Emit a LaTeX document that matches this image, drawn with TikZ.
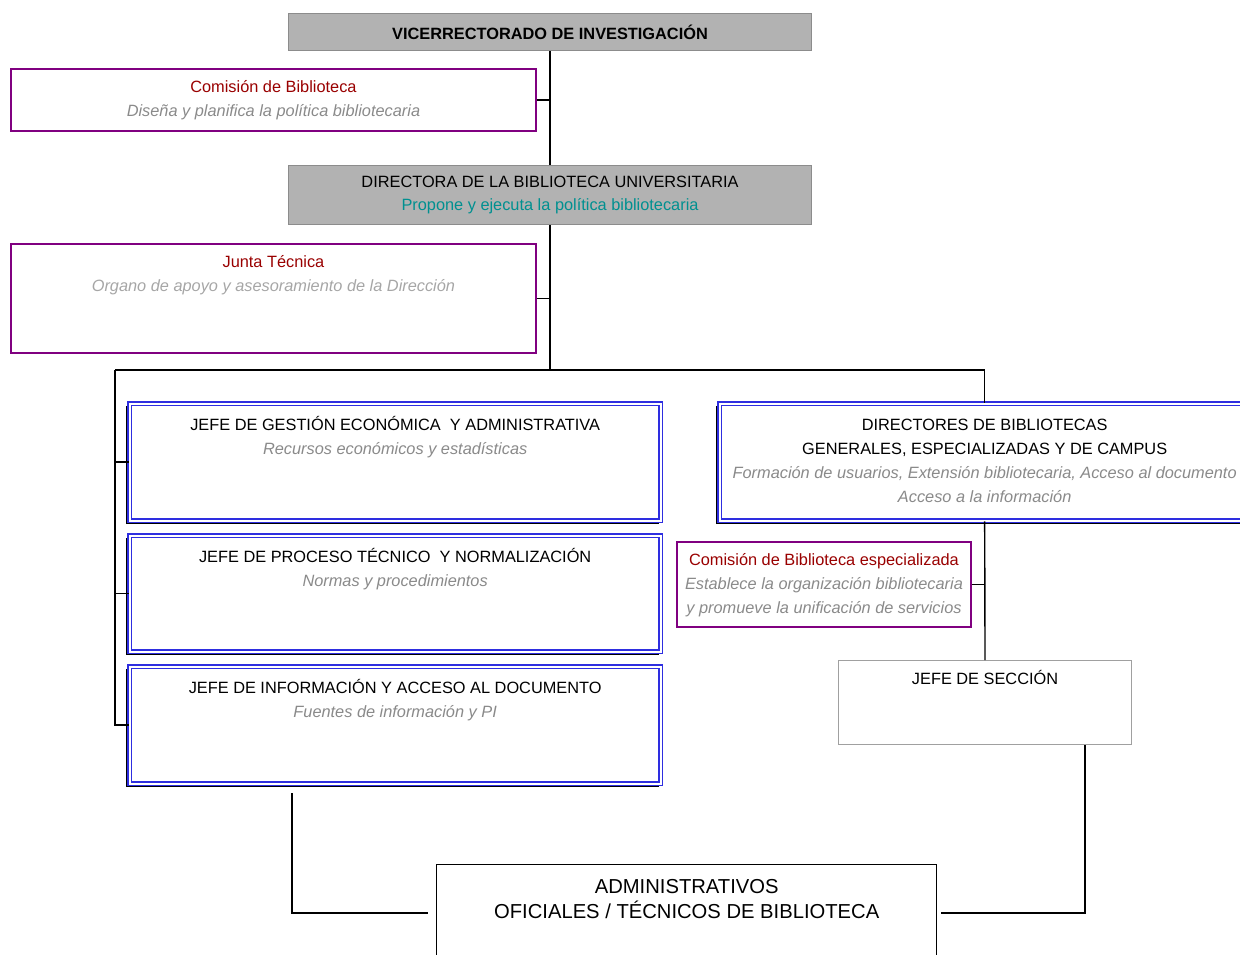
\documentclass[tikz,border=0pt]{standalone}
\usepackage{fontspec}
\setmainfont{Liberation Sans}
\usetikzlibrary{calc,shadows}

\definecolor{boxgray}{HTML}{B2B2B2}
\definecolor{boxline}{HTML}{8C8C8C}
\definecolor{comred}{HTML}{990000}
\definecolor{compurple}{HTML}{800080}
\definecolor{propteal}{HTML}{009090}
\definecolor{descgray}{HTML}{8A8A8A}
\definecolor{desclight}{HTML}{A6A6A6}
\definecolor{jefeblue}{HTML}{2E2EE0}
\definecolor{seccline}{HTML}{A0A0A0}

\newlength{\pxu}
\setlength{\pxu}{0.02cm}
\newcommand{\desc}[1]{\textcolor{descgray}{\itshape #1}}
\newcommand{\comname}[1]{\textcolor{comred}{#1}}
\newcommand{\tstrut}{\rule{0pt}{10pt}}

\tikzset{
  box/.style={draw, anchor=north west, inner sep=0pt, font=\fontsize{9.3}{13.6}\selectfont},
  graybox/.style={box, fill=boxgray, draw=boxline, line width=0.6pt, align=center},
  combox/.style={box, draw=compurple, line width=1.1pt},
  jefebox/.style={box, fill=white, draw=jefeblue, line width=0.75pt, double=white, double distance=1pt,
    general shadow={fill=black, shadow xshift=-1.5pt, shadow yshift=-1.5pt, shadow scale=1.004}},
  plainbox/.style={box, draw=seccline, line width=0.6pt},
  boxtext/.style={anchor=north, align=center, inner sep=0pt, font=\fontsize{9.3}{13.6}\selectfont, yshift=-#1\pxu+10pt},
  link/.style={line width=0.8pt},
}

\begin{document}
\begin{tikzpicture}[x=0.02cm,y=-0.02cm]

\useasboundingbox (0,0) rectangle (1240,954);

\node[graybox, minimum width=523\pxu, minimum height=37\pxu, font=\bfseries\fontsize{9.3}{13.6}\selectfont] (vic) at (288,13) {VICERRECTORADO DE INVESTIGACIÓN};
\node[combox, minimum width=525\pxu, minimum height=62\pxu,
  label={[boxtext=24]north:{\tstrut\comname{Comisión de Biblioteca}\\\desc{Diseña y planifica la política bibliotecaria}}}] (cbib) at (10,68) {};
\node[graybox, minimum width=523\pxu, minimum height=59\pxu] (dir) at (288,165) {DIRECTORA DE LA BIBLIOTECA UNIVERSITARIA\\\textcolor{propteal}{Propone y ejecuta la política bibliotecaria}};
\node[combox, minimum width=525\pxu, minimum height=109\pxu,
  label={[boxtext=24]north:{\tstrut\comname{Junta Técnica}\\\textcolor{desclight}{\itshape Organo de apoyo y asesoramiento de la Dirección}}}] (junta) at (10,243) {};

\node[jefebox, minimum width=531\pxu, minimum height=117\pxu,
  label={[boxtext=27]north:{\tstrut JEFE DE GESTIÓN ECONÓMICA\ \ Y ADMINISTRATIVA\\\desc{Recursos económicos y estadísticas}}}] (jge) at (129,403) {};
\node[jefebox, minimum width=531\pxu, minimum height=116\pxu,
  label={[boxtext=27]north:{\tstrut JEFE DE PROCESO TÉCNICO\ \ Y NORMALIZACIÓN\\\desc{Normas y procedimientos}}}] (jpt) at (129,535) {};
\node[jefebox, minimum width=531\pxu, minimum height=117\pxu,
  label={[boxtext=27]north:{\tstrut JEFE DE INFORMACIÓN Y ACCESO AL DOCUMENTO\\\desc{Fuentes de información y PI}}}] (jia) at (129,666) {};

\node[jefebox, minimum width=530\pxu, minimum height=117\pxu,
  label={[boxtext=27]north:{\tstrut DIRECTORES DE BIBLIOTECAS\\GENERALES, ESPECIALIZADAS Y DE CAMPUS\\\desc{Formación de usuarios, Extensión bibliotecaria, Acceso al documento}\\\desc{Acceso a la información}}}] (dbib) at (719,403) {};
\node[combox, minimum width=294\pxu, minimum height=85\pxu,
  label={[boxtext=24]north:{\tstrut\comname{Comisión de Biblioteca especializada}\\\desc{Establece la organización bibliotecaria}\\\desc{y promueve la unificación de servicios}}}] (cesp) at (676,541) {};
\node[plainbox, minimum width=293\pxu, minimum height=84\pxu,
  label={[boxtext=24]north:{\tstrut JEFE DE SECCIÓN}}] (jsec) at (838,660) {};

\node[box, line width=0.8pt, minimum width=500\pxu, minimum height=96\pxu,
  label={[boxtext=29, font=\fontsize{11.5}{14.2}\selectfont]north:{\tstrut ADMINISTRATIVOS\\OFICIALES / TÉCNICOS DE BIBLIOTECA}}] (adm) at (436,864) {};

\coordinate (split) at (dir.south |- 0,370);
\coordinate (lbus) at (115,370);
\coordinate (rbus) at (dbib.north |- split);
\coordinate (jiaout) at ($(jia.south west)+(163,0)$);
\coordinate (jsecout) at ($(jsec.south east)+(-47,0)$);

\draw[link] (vic) -- (dir);
\draw[link] (dir.south) -- (split);
\draw[link] (cbib.east) -- (cbib.east -| vic.south);
\draw[link] (junta.east) -- (junta.east -| dir.south);
\draw[link] (lbus) -- (rbus) -- (dbib.north);
\draw[link] (lbus) |- (jia.west);
\draw[link] (jge.west -| lbus) -- (jge.west);
\draw[link] (jpt.west -| lbus) -- (jpt.west);
\draw[link] (dbib.south) -- (jsec.north);
\draw[link] (cesp.east) -- (cesp.east -| jsec.north);
\draw[link, line width=1.2pt, shorten <=9\pxu, shorten >=8\pxu] (jiaout) |- (adm.west);
\draw[link, line width=1.2pt, shorten >=4\pxu] (jsecout) |- (adm.east);

\end{tikzpicture}
\end{document}
